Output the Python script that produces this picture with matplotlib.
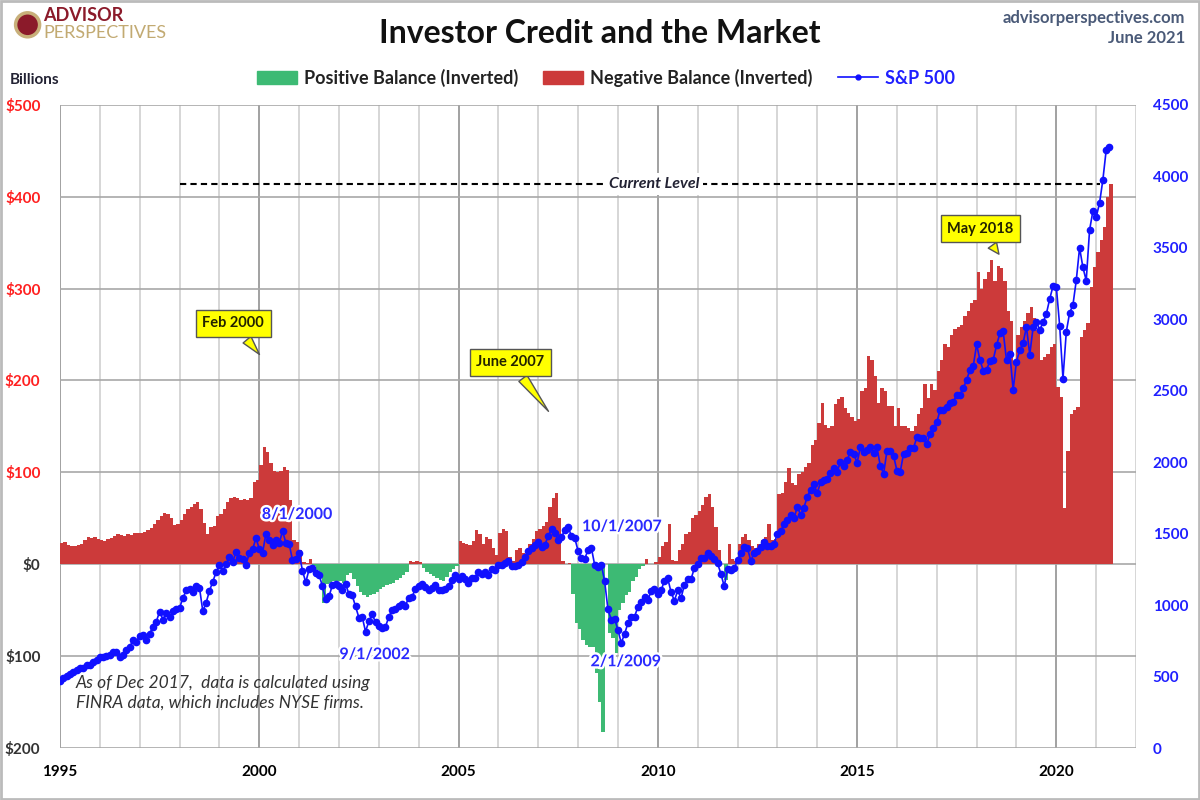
import numpy as np
import matplotlib
matplotlib.use("Agg")
import matplotlib.pyplot as plt
from matplotlib.patches import Patch, Ellipse, Rectangle
from matplotlib.lines import Line2D
import matplotlib.patheffects as pe

plt.rcParams['font.family'] = ['Lato', 'DejaVu Sans']

# monthly data, Jan 1995 .. May 2021
start_year = 1995

# investor credit balance (inverted), billions $ : > 0 negative balance, < 0 positive balance
balance = [
    23, 24, 21, 20, 20, 21, 22, 26, 30, 29, 30, 27,            # 1995
    26, 25, 27, 29, 31, 33, 32, 31, 33, 32, 34, 34,            # 1996
    34, 35, 37, 39, 44, 48, 52, 56, 55, 50, 43, 44,            # 1997
    48, 55, 60, 62, 66, 68, 60, 45, 33, 40, 42, 52,            # 1998
    55, 60, 68, 72, 73, 72, 70, 71, 70, 72, 90, 92,            # 1999
    108, 128, 122, 110, 102, 100, 102, 106, 103, 70, 26, 24,   # 2000
    15, 2, 1, 6, -2, -6, -12, -42, -22, -20, -18, -18,         # 2001
    -18, -20, -12, -10, -16, -24, -30, -33, -36, -34, -32, -30,  # 2002
    -27, -25, -23, -22, -20, -17, -15, -12, -9, 4, 2, 3,       # 2003
    2, -4, -8, -11, -13, -15, -17, -18, -14, -9, -5, -2,       # 2004
    25, 23, 22, 21, 25, 37, 33, 22, 30, 28, 18, 10,            # 2005
    34, 38, 36, 8, 3, 16, 18, 12, 10, 22, 28, 36,              # 2006
    38, 42, 46, 62, 72, 78, 50, 3, 0, 1, -32, -64,             # 2007
    -70, -82, -88, -90, -90, -118, -150, -183, 0, -75, -80, -97,  # 2008
    -50, -42, -33, -30, -18, -14, -5, -2, 6, 0, 0, 2,          # 2009
    8, 20, 24, 44, 5, 3, 15, 22, 33, 35, 50, 54,               # 2010
    58, 65, 73, 76, 62, 40, 15, 0, -17, 22, 6, 3,              # 2011
    22, 30, 33, 26, 20, 18, 22, 26, 30, 44, 26, 28,            # 2012
    76, 78, 90, 105, 88, 86, 98, 100, 106, 110, 130, 135,      # 2013
    154, 176, 152, 148, 150, 174, 180, 182, 170, 165, 160, 156,  # 2014
    158, 188, 192, 227, 222, 205, 175, 192, 188, 172, 172, 150,  # 2015
    170, 150, 150, 148, 145, 150, 163, 170, 196, 181, 196, 190,  # 2016
    210, 222, 240, 236, 250, 256, 258, 260, 270, 276, 284, 288,  # 2017
    318, 300, 310, 318, 331, 308, 325, 322, 308, 276, 265, 218,  # 2018
    249, 258, 265, 273, 280, 268, 255, 222, 226, 229, 236, 240,  # 2019
    193, 182, 61, 123, 163, 168, 171, 247, 255, 262, 302, 324,   # 2020
    340, 353, 367, 400, 414,                                     # 2021
]

# S&P 500 monthly close
sp500 = [
    470, 487, 501, 515, 533, 545, 562, 562, 584, 582, 605, 616,
    636, 640, 646, 654, 669, 671, 640, 652, 687, 705, 757, 741,
    786, 791, 757, 801, 848, 885, 954, 899, 947, 915, 955, 970,
    980, 1049, 1102, 1112, 1091, 1134, 1121, 957, 1017, 1099, 1164, 1229,
    1280, 1238, 1286, 1335, 1302, 1373, 1329, 1320, 1283, 1363, 1389, 1469,
    1394, 1366, 1499, 1452, 1421, 1455, 1431, 1518, 1437, 1429, 1315, 1320,
    1366, 1240, 1160, 1249, 1256, 1224, 1211, 1134, 1041, 1060, 1139, 1148,
    1130, 1107, 1147, 1077, 1067, 990, 912, 916, 815, 886, 936, 880,
    856, 841, 848, 917, 964, 975, 990, 1008, 996, 1051, 1058, 1112,
    1131, 1145, 1126, 1107, 1121, 1141, 1102, 1104, 1115, 1130, 1174, 1212,
    1181, 1204, 1181, 1157, 1192, 1191, 1234, 1220, 1229, 1207, 1249, 1248,
    1280, 1281, 1295, 1311, 1270, 1270, 1277, 1304, 1336, 1378, 1401, 1418,
    1438, 1407, 1421, 1482, 1531, 1503, 1455, 1474, 1527, 1549, 1481, 1468,
    1379, 1331, 1323, 1386, 1400, 1280, 1267, 1283, 1165, 969, 896, 903,
    826, 735, 798, 873, 919, 919, 987, 1021, 1057, 1036, 1096, 1115,
    1074, 1104, 1169, 1187, 1089, 1031, 1102, 1049, 1141, 1183, 1181, 1258,
    1286, 1327, 1326, 1364, 1345, 1321, 1292, 1219, 1131, 1253, 1247, 1258,
    1312, 1366, 1408, 1398, 1310, 1362, 1379, 1407, 1441, 1412, 1416, 1426,
    1498, 1515, 1569, 1598, 1631, 1606, 1686, 1633, 1682, 1757, 1806, 1848,
    1783, 1859, 1872, 1884, 1924, 1960, 1931, 2003, 1972, 2018, 2068, 2059,
    1995, 2105, 2068, 2086, 2107, 2063, 2104, 1972, 1920, 2079, 2080, 2044,
    1940, 1932, 2060, 2065, 2097, 2099, 2174, 2171, 2168, 2126, 2199, 2239,
    2279, 2364, 2363, 2384, 2412, 2423, 2470, 2472, 2519, 2575, 2648, 2674,
    2824, 2714, 2641, 2648, 2705, 2718, 2816, 2902, 2914, 2712, 2760, 2507,
    2704, 2784, 2834, 2946, 2752, 2942, 2980, 2926, 2977, 3038, 3141, 3231,
    3226, 2954, 2585, 2912, 3044, 3100, 3271, 3500, 3363, 3270, 3622, 3756,
    3714, 3811, 3973, 4181, 4204,
]

# labelled S&P points
sp_labels = ['8/1/2000', '9/1/2002', '10/1/2007', '2/1/2009']
callouts = ['Feb 2000', 'June 2007', 'May 2018']

RED = '#CC3A3A'
GREEN = '#3DBA74'
BLUE = '#1010FF'

bal = np.array(balance, dtype=float)
sp = np.array(sp500, dtype=float)
t = start_year + np.arange(len(bal)) / 12.0

fig = plt.figure(figsize=(12, 8), dpi=100)
ax = fig.add_axes([0.05, 0.065, 0.8967, 0.804])
ax2 = ax.twinx()

ax.bar(t, np.where(bal > 0, bal, 0), width=1/12, align='edge', color=RED, linewidth=0, zorder=2)
ax.bar(t, np.where(bal < 0, bal, 0), width=1/12, align='edge', color=GREEN, linewidth=0, zorder=2)

ax.set_xlim(1995, 2022)
ax.set_ylim(-200, 500)
ax.set_xticks(range(1995, 2021, 5))
ax.set_xticks([y for y in range(1995, 2023) if y % 5], minor=True)
ax.set_yticks(range(-200, 501, 100))
ax.set_yticklabels([f'${abs(v)}' for v in range(-200, 501, 100)])
for lab, v in zip(ax.get_yticklabels(), range(-200, 501, 100)):
    lab.set_color('#FF2020' if v > 0 else '#333333')
ax.tick_params(axis='both', which='both', length=0)
ax.tick_params(axis='y', pad=14, labelsize=11)
ax.tick_params(axis='x', pad=12, labelsize=11)
for lab in ax.get_xticklabels() + ax.get_yticklabels():
    lab.set_fontweight('bold')
ax.grid(axis='x', which='major', color='#9A9A9A', lw=1.3)
ax.grid(axis='x', which='minor', color='#CFCFCF', lw=1.2)
ax.grid(axis='y', which='major', color='#A8A8A8', lw=1.2)
ax.set_axisbelow(True)

# current level dashed line
cur = bal[-1]
ax.plot([1998.0, 2021.1], [cur, cur], ls=(0, (3, 2)), color='black', lw=1.5, zorder=3)
ax.text(2009.9, cur, 'Current Level', ha='center', va='center', fontsize=11.5,
        style='italic', fontweight='bold', color='#222233',
        bbox=dict(fc='white', ec='none', pad=3), zorder=4)

# S&P 500
ax2.plot(t, sp, color=BLUE, lw=1.2, marker='o', ms=4.5, zorder=5)
ax2.set_ylim(0, 4500)
ax2.set_yticks(range(0, 4501, 500))
ax2.tick_params(axis='y', length=0, pad=12, labelsize=11, labelcolor='#2020FF')
for lab in ax2.get_yticklabels():
    lab.set_fontweight('bold')
for a in (ax, ax2):
    for s in a.spines.values():
        s.set_visible(False)

glow = [pe.withStroke(linewidth=3.5, foreground='white')]
label_pos = [(2000.95, 1630), (2002.9, 650), (2009.1, 1545), (2009.2, 600)]
for txt, (lx, ly) in zip(sp_labels, label_pos):
    ax2.text(lx, ly, txt, ha='center', va='center', color='#2A2AFF', fontsize=11.5,
             fontweight='bold', path_effects=glow, zorder=6)

# yellow callouts
callout_pos = [((2000.05, 226), (1999.35, 262)),
               ((2007.3, 164), (2006.3, 220)),
               ((2018.6, 335), (2018.1, 365))]
for txt, (tip, box) in zip(callouts, callout_pos):
    ax.annotate(txt, xy=tip, xytext=box, ha='center', va='center', fontsize=10.5,
                fontweight='bold', color='#222200', zorder=7,
                bbox=dict(boxstyle='square,pad=0.45', fc='#FFFF00', ec='#555555', lw=1),
                arrowprops=dict(arrowstyle='wedge,tail_width=0.7,shrink_factor=0.5',
                                fc='#FFFF00', ec='#555555', lw=1))

ax.text(1995.4, -140, 'As of Dec 2017,  data is calculated using\nFINRA data, which includes NYSE firms.',
        ha='left', va='center', fontsize=12.5, style='italic', color='#333333',
        linespacing=1.3, zorder=4)

# legend
handles = [Patch(color=GREEN), Patch(color=RED),
           Line2D([], [], color=BLUE, lw=1.2, marker='o', ms=3.5)]
leg = fig.legend(handles, ['Positive Balance (Inverted)', 'Negative Balance (Inverted)', 'S&P 500'],
                 loc='center', bbox_to_anchor=(0.505, 0.903), ncol=3, frameon=False,
                 handlelength=2.2, handleheight=0.7, columnspacing=1.4, handletextpad=0.4,
                 prop=dict(weight='bold', size=13))
leg.get_texts()[2].set_color('#2020FF')
for tx in leg.get_texts()[:2]:
    tx.set_color('#222222')

# titles and header text
fig.text(0.5, 0.958, 'Investor Credit and the Market', ha='center', va='center',
         fontsize=23, fontweight='bold', color='#111111')
fig.text(0.988, 0.977, 'advisorperspectives.com', ha='right', va='center',
         fontsize=12, fontweight='bold', color='#4A5A78')
fig.text(0.988, 0.952, 'June 2021', ha='right', va='center',
         fontsize=12, fontweight='bold', color='#4A5A78')
fig.text(0.008, 0.9, 'Billions', ha='left', va='center', fontsize=11,
         fontweight='bold', color='#222233')

# logo
fig.add_artist(Ellipse((0.023, 0.969), 0.02, 0.03, transform=fig.transFigure,
                       fc='#8B1A2A', ec='#C8B07A', lw=2.5))
fig.text(0.036, 0.981, 'ADVISOR', ha='left', va='center', fontsize=13,
         fontweight='bold', color='#8B1A2A')
fig.text(0.036, 0.959, 'PERSPECTIVES', ha='left', va='center', fontsize=13,
         color='#C2AA72')

fig.add_artist(Rectangle((0.001, 0.001), 0.998, 0.998, transform=fig.transFigure,
                         fill=False, ec='#BBBBBB', lw=2))

fig.savefig('out.png', dpi=100)
